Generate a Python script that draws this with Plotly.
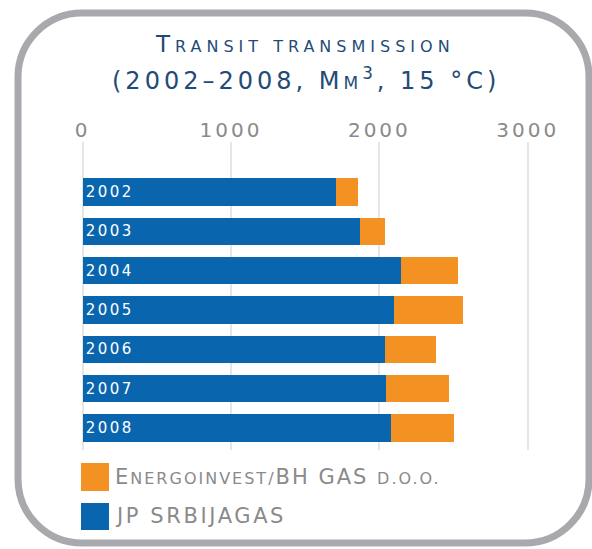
import plotly.graph_objects as go

# ---- data ----
years = ["2002", "2003", "2004", "2005", "2006", "2007", "2008"]
srbijagas = [1708, 1870, 2146, 2099, 2038, 2045, 2079]
energoinvest = [150, 170, 387, 468, 342, 427, 423]
tick_vals = [0, 1000, 2000, 3000]
tick_text = ["0", "1000", "2000", "3000"]

# ---- layout constants ----
W, H = 592, 549
L, R, T, B = 70, 32, 142, 99
FONT = "DejaVu Sans"
BLUE = "#0966ae"
ORANGE = "#f39222"
TITLE_C = "#1f4b78"
GRAY_T = "#8a8a8a"


def px(x):
    return (x - L) / (W - L - R)


def py(y):
    return 1 - (y - T) / (H - T - B)


def spaced(s, sp):
    return f"<span style='letter-spacing:{sp}px'>{s}</span>"


fig = go.Figure()
fig.add_trace(go.Bar(y=years, x=srbijagas, orientation="h", name="JP SRBIJAGAS",
                     marker=dict(color=BLUE, line=dict(width=0)), width=0.7,
                     text=[spaced(v, 2.5) for v in years], textposition="inside",
                     insidetextanchor="start", constraintext="none",
                     textfont=dict(family=FONT, size=15, color="white")))
fig.add_trace(go.Bar(y=years, x=energoinvest, orientation="h", name="Energoinvest/BH GAS d.o.o.",
                     marker=dict(color=ORANGE, line=dict(width=0)), width=0.7))

# frame: rounded rectangle
x0, x1, y0, y1, r = 18, 589, 13, 543, 64
k = 0.5523 * r
pts = [
    f"M {px(x0 + r)},{py(y0)}",
    f"L {px(x1 - r)},{py(y0)}",
    f"C {px(x1 - r + k)},{py(y0)} {px(x1)},{py(y0 + r - k)} {px(x1)},{py(y0 + r)}",
    f"L {px(x1)},{py(y1 - r)}",
    f"C {px(x1)},{py(y1 - r + k)} {px(x1 - r + k)},{py(y1)} {px(x1 - r)},{py(y1)}",
    f"L {px(x0 + r)},{py(y1)}",
    f"C {px(x0 + r - k)},{py(y1)} {px(x0)},{py(y1 - r + k)} {px(x0)},{py(y1 - r)}",
    f"L {px(x0)},{py(y0 + r)}",
    f"C {px(x0)},{py(y0 + r - k)} {px(x0 + r - k)},{py(y0)} {px(x0 + r)},{py(y0)} Z",
]
shapes = [dict(type="path", xref="paper", yref="paper", path=" ".join(pts),
               line=dict(color="#a7a9ac", width=7), layer="below")]

# legend swatches
shapes.append(dict(type="rect", xref="paper", yref="paper", x0=px(81), x1=px(109),
                   y0=py(491), y1=py(463), fillcolor=ORANGE, line=dict(width=0)))
shapes.append(dict(type="rect", xref="paper", yref="paper", x0=px(81), x1=px(109),
                   y0=py(530), y1=py(503), fillcolor=BLUE, line=dict(width=0)))

annotations = []
# title
annotations.append(dict(
    xref="paper", yref="paper", x=px(305), y=py(44), xanchor="center", yanchor="middle",
    showarrow=False, font=dict(family=FONT, size=23, color=TITLE_C),
    text="<span style='letter-spacing:5px'>T<span style='font-size:16px'>RANSIT TRANSMISSION</span></span>"))
annotations.append(dict(
    xref="paper", yref="paper", x=px(306), y=py(79), xanchor="center", yanchor="middle",
    showarrow=False, font=dict(family=FONT, size=24, color=TITLE_C),
    text="<span style='letter-spacing:4px'>(2002–2008, M<span style='font-size:17px'>M</span><sup>3</sup>, 15 °C)</span>"))

# legend texts
annotations.append(dict(
    xref="paper", yref="paper", x=px(113), y=py(477), xanchor="left", yanchor="middle",
    showarrow=False, font=dict(family=FONT, size=21, color=GRAY_T),
    text="<span style='letter-spacing:2px'>E<span style='font-size:16px'>NERGOINVEST/</span>BH GAS <span style='font-size:16px'>D.O.O.</span></span>"))
annotations.append(dict(
    xref="paper", yref="paper", x=px(113), y=py(516), xanchor="left", yanchor="middle",
    showarrow=False, font=dict(family=FONT, size=21, color=GRAY_T),
    text=spaced("JP SRBIJAGAS", 2.6)))

ppu = 445.0 / 3000.0  # pixels per unit
xmin = -(82.7 - L) / ppu
xmax = xmin + (W - L - R) / ppu

fig.update_layout(
    width=W, height=H,
    margin=dict(l=L, r=R, t=T, b=B, pad=0),
    paper_bgcolor="white", plot_bgcolor="white",
    barmode="stack", bargap=0.3,
    showlegend=False,
    shapes=shapes, annotations=annotations,
    xaxis=dict(side="top", range=[xmin, xmax], tickvals=tick_vals,
               ticktext=[spaced(t, 3) for t in tick_text],
               showgrid=True, gridcolor="#e6e6e6", gridwidth=1.5,
               zeroline=True, zerolinecolor="#e6e6e6", zerolinewidth=1.5,
               showline=False, ticks="",
               tickfont=dict(family=FONT, size=20, color=GRAY_T)),
    yaxis=dict(type="category", categoryorder="array", categoryarray=years,
               range=[6.559, -1.271], showticklabels=False, showgrid=False,
               zeroline=False, showline=False, ticks=""),
)

fig.write_html("out.html", config={"displayModeBar": False},
               post_script="document.body.style.margin='0px';")
